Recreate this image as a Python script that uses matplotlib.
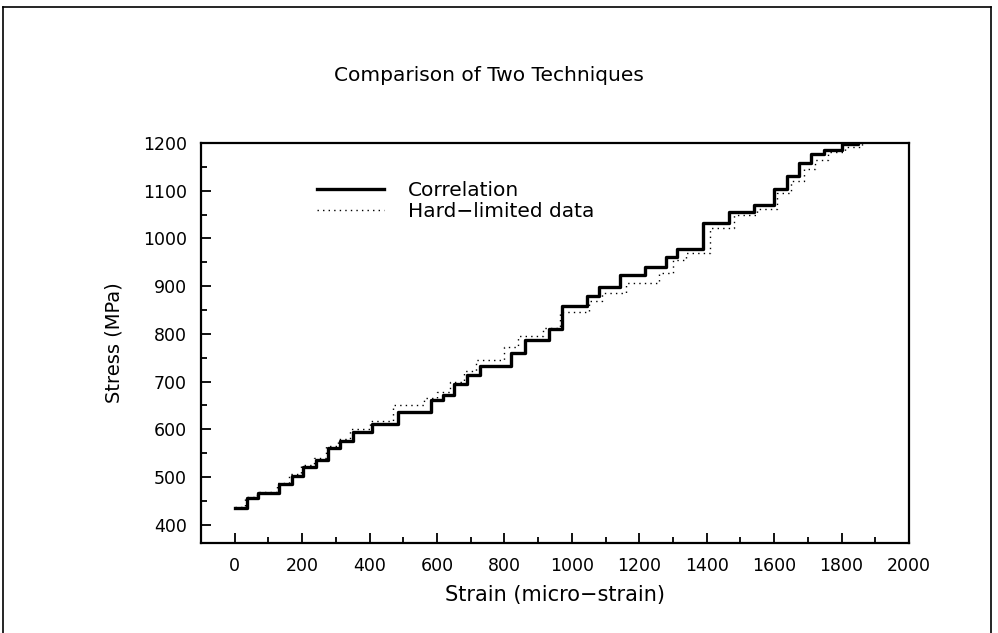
# Stress vs strain, correlation vs hard-limited data

import numpy as np
import matplotlib.pyplot as plt
from matplotlib.lines import Line2D

# step series (x = strain where step starts)
corr_strain = [0, 35, 69, 132, 169, 203, 242, 277, 313, 350, 408, 483, 583, 619,
               651, 689, 728, 821, 860, 931, 970, 1045, 1080, 1143, 1218, 1278,
               1313, 1390, 1466, 1540, 1599, 1638, 1674, 1709, 1748, 1800, 1850]
corr_stress = [435, 456, 466, 485, 503, 521, 536, 562, 576, 595, 612, 637, 662, 672,
               695, 714, 733, 760, 787, 811, 858, 880, 899, 924, 941, 962,
               978, 1032, 1056, 1070, 1103, 1130, 1157, 1177, 1185, 1198, 1200]

hard_strain = [0, 30, 65, 125, 162, 198, 235, 270, 305, 342, 400, 470, 560, 600,
               640, 680, 715, 800, 840, 915, 965, 1050, 1090, 1160, 1260, 1300,
               1340, 1410, 1480, 1550, 1610, 1650, 1690, 1720, 1760, 1810, 1860]
hard_stress = [438, 458, 468, 487, 506, 525, 541, 566, 580, 600, 618, 650, 666, 678,
               700, 722, 745, 772, 795, 812, 845, 868, 885, 907, 928, 955,
               970, 1022, 1050, 1062, 1095, 1120, 1145, 1165, 1180, 1192, 1200]

x_ticks = np.arange(0, 2001, 200)
y_ticks = np.arange(400, 1201, 100)

plt.rcParams['font.family'] = 'DejaVu Sans'

fig = plt.figure(figsize=(9.98, 6.33), dpi=100)
ax = fig.add_axes([0.2014, 0.1422, 0.7094, 0.632])

ax.step(corr_strain, corr_stress, where='post', color='black', lw=2.4,
        label='Correlation')
ax.step(hard_strain, hard_stress, where='post', color='black', lw=1.0,
        linestyle=(0, (1, 3)), label='Hard\u2212limited data')

ax.set_xlim(-100, 2000)
ax.set_ylim(362, 1200)
ax.set_xticks(x_ticks)
ax.set_yticks(y_ticks)
ax.set_xticks(np.arange(100, 2000, 200), minor=True)
ax.set_yticks(np.arange(450, 1200, 100), minor=True)
ax.tick_params(which='both', direction='in', width=1.3, labelsize=12.5, pad=10)
ax.tick_params(which='major', length=7)
ax.tick_params(which='minor', length=4)
for s in ax.spines.values():
    s.set_linewidth(1.6)

ax.set_xlabel('Strain (micro\u2212strain)', fontsize=15, labelpad=7)
ax.set_ylabel('Stress (MPa)', fontsize=14, labelpad=14)
fig.text(0.49, 0.88, 'Comparison of Two Techniques', fontsize=14.5,
         ha='center', va='center')

ax.legend(loc='upper left', bbox_to_anchor=(0.318, 0.714),
          bbox_transform=fig.transFigure, frameon=False, fontsize=14.5,
          handlelength=3.3, handletextpad=1.2, labelspacing=0.1,
          borderpad=0, borderaxespad=0)

# page frame from the scan
for xs, ys in [([0.003, 0.003], [0.0, 0.989]), ([0.003, 0.993], [0.989, 0.989]),
               ([0.993, 0.993], [0.0, 0.989])]:
    fig.add_artist(Line2D(xs, ys, color='black', lw=1.2,
                          transform=fig.transFigure))

plt.savefig('out.png', dpi=100)
